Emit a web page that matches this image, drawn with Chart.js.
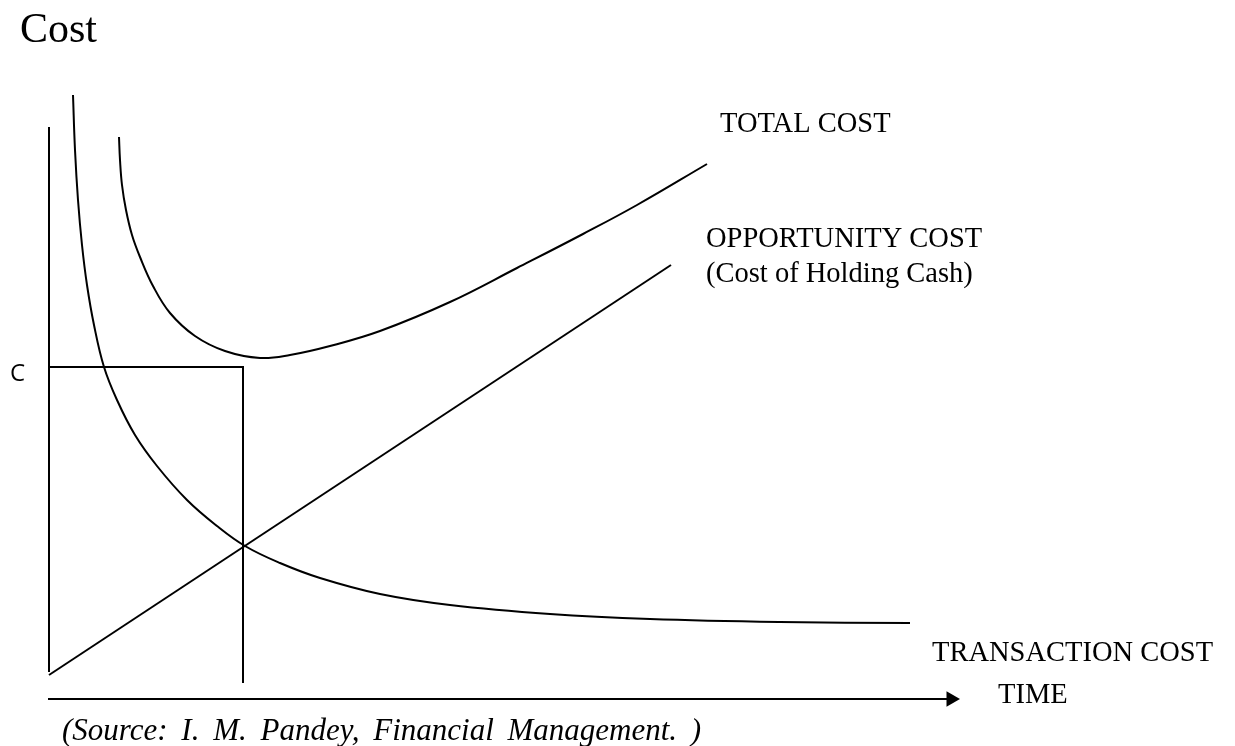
<!DOCTYPE html>
<html>
<head>
<meta charset="utf-8">
<script src="https://cdn.jsdelivr.net/npm/chart.js@4/dist/chart.umd.min.js"></script>
<style>
  html, body { margin: 0; padding: 0; background: #ffffff; }
  #wrap { width: 1235px; height: 746px; position: relative; }
</style>
</head>
<body>
<div id="wrap"><canvas id="c"></canvas></div>
<script>
// ---- Data (x = cash balance / time units, y = cost units) ----
const transactionCostX = [2.4, 2.6, 2.9, 3.3, 3.8, 4.5, 5.5, 6.8, 8.6, 10.8, 13.8, 16.8, 19.6, 23.1, 27.1, 33.1, 40.1, 50.1, 60.1, 73.1, 86.1];
const transactionCostY = [60.4, 54.9, 49.9, 45.4, 41.4, 37.4, 33.2, 29.9, 26.4, 23.3, 19.9, 17.3, 15.3, 13.6, 12.1, 10.5, 9.4, 8.5, 8.0, 7.7, 7.6];

const totalCostX = [7.0, 7.1, 7.3, 7.7, 8.3, 9.1, 10.4, 12.1, 14.6, 17.6, 21.1, 24.1, 28.1, 33.1, 40.1, 46.8, 53.4, 58.8, 65.8];
const totalCostY = [56.2, 53.9, 51.4, 48.9, 46.4, 44.2, 41.3, 38.6, 36.3, 34.8, 34.1, 34.4, 35.3, 36.8, 39.7, 43.1, 46.5, 49.4, 53.5];

const opportunityCostX = [0, 62.2];
const opportunityCostY = [2.4, 43.4];

// optimum cost level C and the cash balance where it occurs
const optimumX = [0, 19.4, 19.4];
const optimumY = [33.2, 33.2, 1.6];

// axes of the sketch
const costAxisX = [0, 0];
const costAxisY = [57.2, 2.7];
const timeAxisX = [-0.1, 90.0];
const timeAxisY = [0, 0];
const arrowHead = [90.2, 0];

// ---- Text ----
const labelTexts = ["Cost", "TOTAL COST", "OPPORTUNITY COST", "(Cost of Holding Cash)", "C", "TRANSACTION COST", "TIME", "(Source: I. M. Pandey, Financial Management. )"];

const pts = (xs, ys) => xs.map((x, i) => ({ x: x, y: ys[i] }));

const serif = '"Liberation Serif", "Times New Roman", serif';
const labelLayout = [
  { x: -2.9, y: 65.7, font: '42px ' + serif },
  { x: 67.1, y: 56.7, font: '28.5px ' + serif },
  { x: 65.7, y: 45.2, font: '28.5px ' + serif },
  { x: 65.7, y: 41.7, font: '28.5px ' + serif },
  { x: -3.9, y: 31.8, font: '24px "Open Sans", "Liberation Sans", sans-serif' },
  { x: 88.3, y: 3.8, font: '28.5px ' + serif },
  { x: 94.9, y: -0.4, font: '28.5px ' + serif },
  { x: 1.3, y: -4.1, font: 'italic 31px ' + serif, wordSpacing: '6px' }
];

const textPlugin = {
  id: 'sketchText',
  afterDatasetsDraw(chart) {
    const ctx = chart.ctx;
    const xs = chart.scales.x, ys = chart.scales.y;
    ctx.save();
    ctx.fillStyle = '#000';
    ctx.textBaseline = 'alphabetic';
    ctx.textAlign = 'left';
    labelTexts.forEach((t, i) => {
      const l = labelLayout[i];
      ctx.font = l.font;
      if ('wordSpacing' in ctx) ctx.wordSpacing = l.wordSpacing || '0px';
      ctx.fillText(t, xs.getPixelForValue(l.x), ys.getPixelForValue(l.y));
    });
    ctx.restore();
  }
};

const lineStyle = {
  showLine: true,
  borderColor: '#000',
  backgroundColor: '#000',
  borderWidth: 2,
  pointRadius: 0,
  fill: false
};

new Chart(document.getElementById('c'), {
  type: 'scatter',
  data: {
    datasets: [
      Object.assign({ label: 'Transaction cost', data: pts(transactionCostX, transactionCostY), tension: 0.4 }, lineStyle),
      Object.assign({ label: 'Total cost', data: pts(totalCostX, totalCostY), tension: 0.4 }, lineStyle),
      Object.assign({ label: 'Opportunity cost', data: pts(opportunityCostX, opportunityCostY) }, lineStyle),
      Object.assign({ label: 'C', data: pts(optimumX, optimumY), tension: 0 }, lineStyle),
      Object.assign({ label: 'Cost axis', data: pts(costAxisX, costAxisY) }, lineStyle),
      Object.assign({ label: 'Time axis', data: pts(timeAxisX, timeAxisY) }, lineStyle),
      {
        label: 'Arrow',
        data: [{ x: arrowHead[0], y: arrowHead[1] }],
        showLine: false,
        pointStyle: 'triangle',
        rotation: 90,
        pointRadius: 9,
        borderWidth: 0,
        borderColor: '#000',
        backgroundColor: '#000'
      }
    ]
  },
  options: {
    responsive: true,
    maintainAspectRatio: false,
    animation: false,
    layout: { padding: 0, autoPadding: false },
    events: [],
    plugins: {
      legend: { display: false },
      tooltip: { enabled: false },
      title: { display: false }
    },
    scales: {
      x: { type: 'linear', display: false, min: -4.9, max: 118.6 },
      y: { type: 'linear', display: false, min: -4.7, max: 69.9 }
    }
  },
  plugins: [textPlugin]
});
</script>
</body>
</html>
